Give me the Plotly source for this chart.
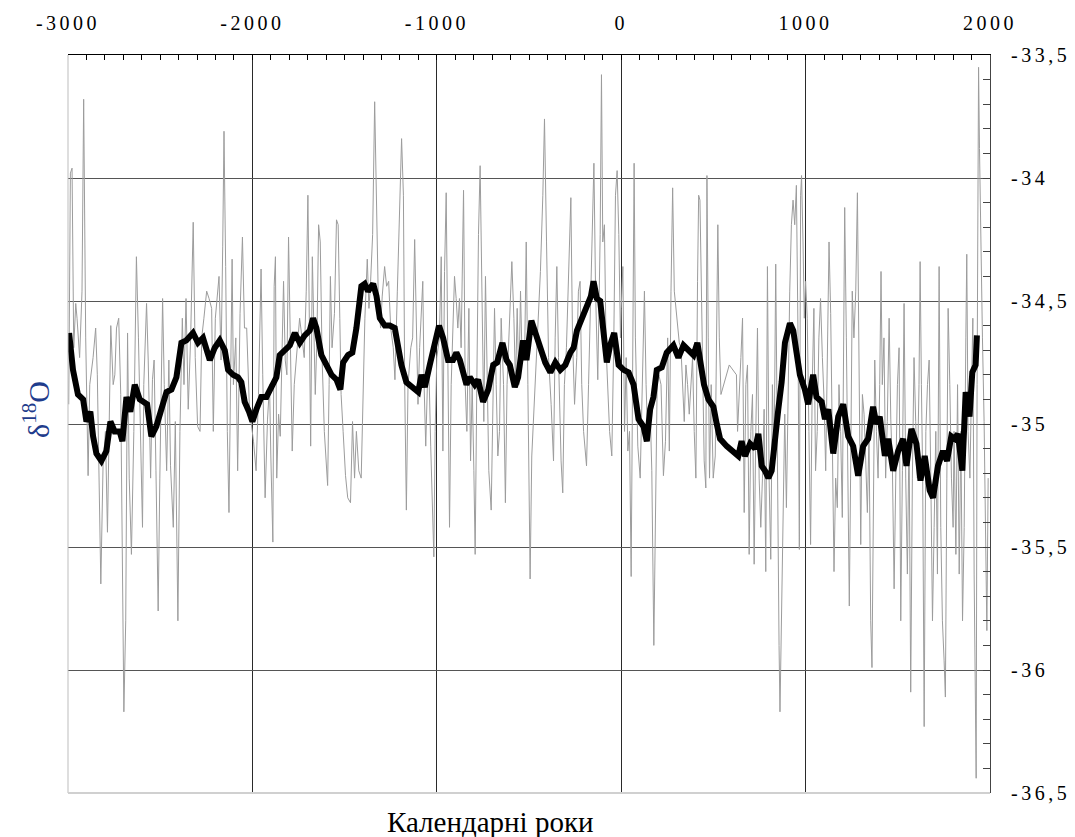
import plotly.graph_objects as go

# ---------------- data ----------------
# thin grey annual series (peaks / troughs)
gray_years = [
    -2996, -2987, -2978, -2969, -2958, -2951, -2937, -2924, -2915, -2904, -2891, -2882, -2864, -2850,
    -2841, -2831, -2822, -2810, -2797, -2786, -2774, -2768, -2755, -2746, -2737, -2725, -2714, -2701,
    -2697, -2687, -2677, -2668, -2656, -2643, -2629, -2618, -2607, -2596, -2589, -2574, -2565, -2552,
    -2542, -2533, -2523, -2511, -2502, -2487, -2478, -2465, -2453, -2444, -2429, -2418, -2404, -2393,
    -2380, -2371, -2360, -2348, -2335, -2321, -2310, -2297, -2284, -2275, -2263, -2248, -2235, -2221,
    -2212, -2201, -2181, -2170, -2161, -2154, -2145, -2136, -2127, -2118, -2110, -2103, -2090, -2080,
    -2067, -2054, -2043, -2031, -2016, -1994,
    -1980, -1967, -1953, -1944, -1931, -1918, -1907, -1900, -1889, -1882, -1875, -1868, -1858, -1849,
    -1840, -1831, -1822, -1813, -1804, -1795, -1784, -1773, -1759, -1744, -1731, -1719, -1708, -1699,
    -1690, -1684, -1675, -1668, -1659, -1650, -1641, -1632, -1622, -1610, -1599, -1592, -1584, -1577,
    -1568, -1555, -1544, -1535, -1526, -1519, -1508, -1495, -1483, -1468, -1457, -1446, -1436, -1423,
    -1410, -1399, -1390, -1377, -1368, -1359, -1348, -1337, -1327, -1318, -1305, -1296, -1283, -1272,
    -1261, -1250, -1236, -1227, -1214, -1201, -1191, -1181, -1174, -1165, -1156, -1141, -1131, -1120,
    -1111, -1102, -1093, -1083, -1076, -1069, -1060, -1051, -1042, -1033, -1024, -1016, -1009, -1000,
    -986, -976, -967, -958, -949, -940, -931, -922, -913, -904, -895, -886, -877, -868, -855, -846,
    -837, -826, -817, -808, -799, -792, -783, -774, -765, -756, -745, -736, -727, -718, -705, -696,
    -687, -678, -669, -660, -651, -638, -628, -619, -606, -593, -582, -573, -564, -555, -546, -539,
    -524, -515, -506, -494, -485, -474, -461, -449, -438, -425, -416, -405, -394, -380, -367, -358,
    -349, -340, -326, -317, -308, -297, -286, -273, -264, -253, -241, -232, -223, -214, -204, -188,
    -177, -166, -157, -148, -139, -127, -114, -107, -100, -91, -82, -72, -63, -51, -40, -31, -22, -13,
    -4,
    0, 9, 18, 27, 36, 45, 54, 63, 70, 77, 90, 103, 114, 126, 135, 144, 157, 166, 177, 186, 195, 204,
    216, 229, 240, 252, 261, 270, 279, 288, 315, 324, 333, 342, 351, 360, 369, 378, 387, 396, 405,
    414, 420, 427, 434, 441, 450, 459, 465, 472, 479, 488, 499, 510, 517, 524, 532, 541, 586, 625,
    631, 640, 649, 658, 667, 676, 685, 694, 703, 712, 721, 730, 739, 748, 757, 766, 775, 784, 793,
    802, 811, 820, 829, 838, 847, 856, 861, 869, 878, 887, 896, 905, 914, 923, 932, 941, 950, 959,
    966, 973, 978, 986, 993,
    1000, 1009, 1018, 1027, 1036, 1045, 1054, 1063, 1072, 1081, 1091, 1100, 1109, 1118, 1127, 1136,
    1145, 1154, 1163, 1172, 1181, 1190, 1199, 1205, 1212, 1221, 1230, 1237, 1244, 1253, 1262, 1272,
    1281, 1290, 1299, 1308, 1317, 1326, 1335, 1344, 1353, 1360, 1367, 1375, 1384, 1393, 1402, 1409,
    1416, 1425, 1434, 1443, 1453, 1462, 1471, 1480, 1489, 1498, 1507, 1516, 1525, 1534, 1543, 1552,
    1561, 1570, 1579, 1588, 1597, 1606, 1615, 1621, 1628, 1635, 1643, 1652, 1661, 1670, 1679, 1688,
    1697, 1706, 1715, 1724, 1733, 1742, 1751, 1758, 1766, 1773, 1782, 1791, 1800, 1805, 1815, 1824,
    1833, 1842, 1851, 1860, 1869, 1874, 1881, 1891, 1900, 1907, 1914, 1919, 1925, 1930, 1934, 1938,
    1943, 1950, 1959, 1968, 1977, 1983, 1990,
]
gray_values = [
    -34.92, -33.98, -33.96, -34.69, -34.51, -34.57, -34.73, -34.46, -33.68, -34.65, -35.21, -34.84, -34.73, -34.61,
    -34.80, -35.34, -35.65, -35.17, -35.03, -35.44, -34.84, -34.60, -34.84, -34.80, -34.61, -34.57, -34.88, -35.90,
    -36.17, -35.80, -34.63, -35.22, -35.53, -35.03, -34.32, -34.65, -35.11, -35.42, -34.84, -34.51, -34.74, -35.22,
    -34.82, -34.74, -35.19, -35.76, -35.22, -34.49, -34.84, -35.19, -34.74, -35.17, -35.42, -34.99, -35.80, -35.03,
    -34.57, -34.84, -34.49, -34.94, -34.65, -34.18, -34.73, -35.01, -35.03, -34.65, -34.57, -34.46, -34.49, -34.53,
    -35.03, -34.57, -34.40, -34.74, -34.28, -33.81, -34.36, -35.03, -35.36, -34.84, -34.33, -34.84, -34.65, -35.19,
    -34.55, -34.24, -34.61, -34.61, -34.94, -35.07,
    -35.19, -34.88, -34.37, -34.80, -35.30, -34.98, -34.84, -35.13, -35.48, -34.44, -34.32, -35.22, -34.96, -35.05,
    -34.73, -34.42, -34.74, -34.80, -34.24, -34.65, -35.11, -34.84, -34.71, -34.57, -34.65, -34.73, -34.46, -34.07,
    -34.65, -35.09, -34.32, -34.61, -34.88, -34.65, -34.19, -34.26, -34.73, -35.03, -35.19, -35.25, -34.84, -34.40,
    -34.69, -34.55, -34.17, -34.19, -34.57, -34.88, -35.03, -35.21, -35.30, -35.32, -34.99, -35.22, -35.03, -35.19,
    -35.22, -34.84, -34.57, -34.33, -34.53, -34.42, -34.23, -33.69, -34.07, -34.46, -34.61, -34.48, -34.36, -34.44,
    -34.42, -34.61, -34.69, -34.82, -34.46, -34.07, -33.84, -34.07, -34.84, -35.35, -34.84, -34.69, -34.65, -34.25,
    -34.65, -34.92, -34.69, -34.55, -34.42, -34.84, -35.09, -34.84, -34.80, -35.09, -35.40, -35.54, -35.03, -34.73,
    -34.65, -34.32, -35.11, -34.38, -34.06, -34.65, -35.42, -34.84, -34.57, -34.40, -34.49, -34.61, -34.49, -34.69, -34.05, -34.84,
    -35.03, -34.53, -35.15, -34.84, -35.19, -35.53, -34.84, -34.23, -33.95, -34.46, -34.99, -34.40, -34.84, -35.19, -35.35, -34.84,
    -34.53, -34.84, -35.13, -35.03, -34.57, -34.84, -35.32, -34.84, -34.57, -34.34, -34.57, -34.84, -34.53, -34.84, -34.46, -34.69,
    -34.74, -34.26, -34.84, -35.63, -35.13, -34.96, -34.74, -34.55, -34.38, -34.07, -33.76, -34.26, -34.73, -34.92, -35.15, -34.65,
    -34.36, -34.73, -35.15, -35.28, -34.84, -34.69, -34.42, -34.08, -34.65, -34.92, -34.73, -34.46, -34.42, -34.84, -35.03, -35.17,
    -34.84, -34.46, -34.23, -33.94, -34.46, -34.82, -34.23, -33.58, -34.26, -34.19, -34.69, -34.84, -35.03, -35.13, -34.65, -34.07, -33.97, -34.23,
    -34.65,
    -34.53, -34.36, -35.03, -34.73, -35.11, -35.03, -35.62, -34.84, -33.94, -34.65, -35.09, -35.22, -34.84, -34.46, -34.84, -35.07, -34.94, -35.19, -35.90, -35.42, -34.84, -34.80,
    -34.84, -35.21, -35.07, -34.65, -35.11, -34.46, -34.04, -34.46, -34.67, -34.69, -34.84, -34.99, -34.76, -34.84, -34.96, -34.84, -34.73, -35.03, -35.22,
    -34.42, -34.07, -34.09, -34.46, -34.84, -35.15, -35.26, -33.99, -34.65, -35.22, -34.84, -35.22, -35.13, -34.65, -34.19, -34.65, -34.88, -34.76, -34.80,
    -35.03, -34.84, -34.73, -34.57, -35.36, -34.84, -34.76, -35.53, -35.03, -34.88, -35.57, -35.03, -34.61, -35.22, -35.42, -35.22, -34.94, -35.60, -34.36,
    -35.22, -35.55, -34.84, -35.17, -34.35, -35.22, -35.90, -36.17, -35.80, -35.22, -34.96, -35.34, -34.84, -34.46, -34.19, -34.09, -34.19, -34.03, -34.65,
    -35.51, -34.07, -33.99, -34.26, -34.57,
    -34.42, -34.57, -35.03, -35.49, -34.84, -34.53, -35.19, -35.03, -34.65, -34.49, -34.73, -34.90, -35.19, -34.65, -34.26, -34.55,
    -35.03, -35.60, -35.22, -35.34, -34.84, -35.03, -35.38, -34.84, -34.12, -34.65, -35.22, -35.74, -35.22, -34.46, -34.65, -34.46,
    -34.06, -34.84, -35.49, -34.88, -34.96, -35.15, -35.36, -35.03, -35.80, -35.99, -35.22, -34.74, -35.03, -35.22, -34.84, -34.38,
    -34.84, -34.65, -35.22, -34.99, -34.57, -34.98, -35.19, -35.67, -35.22, -34.84, -34.69, -35.80, -35.19, -34.51, -35.22, -35.61,
    -35.03, -36.09, -35.22, -34.73, -34.99, -35.22, -34.84, -34.34, -34.84, -35.22, -36.23, -35.03, -34.84, -34.74, -35.22, -35.80,
    -35.42, -35.03, -35.61, -34.36, -35.42, -35.80, -35.96, -36.11, -35.22, -34.53, -34.84, -35.22, -35.42, -35.03, -35.53, -34.84,
    -35.61, -35.03, -35.80, -35.42, -34.65, -34.31, -35.03, -35.22, -34.84, -34.57, -35.61, -35.99, -36.44, -34.84, -34.01, -33.55,
    -33.88, -34.26, -34.65, -34.99, -35.42, -35.84, -35.22,
]

# thick smoothed curve
smooth_years = [
    -2994, -2973, -2946, -2918, -2900, -2879, -2864, -2846, -2819, -2792, -2770, -2747, -2720, -2705,
    -2683, -2662, -2638, -2611, -2571, -2548, -2521, -2494, -2466, -2439, -2412, -2385, -2358, -2322,
    -2295, -2268, -2231, -2204, -2177, -2150, -2132, -2105, -2078, -2060, -2042, -2018, -2000, -1978,
    -1951, -1924, -1897, -1870, -1852, -1825, -1797, -1770, -1743, -1716, -1689, -1671, -1653, -1626,
    -1599, -1571, -1544, -1523, -1508, -1481, -1458, -1436, -1409, -1391, -1373, -1345, -1327, -1309,
    -1282, -1255, -1228, -1210, -1192, -1165, -1129, -1101, -1083, -1065, -1038, -1011, -988, -966,
    -939, -912, -894, -875, -839, -821, -794, -776, -749, -721, -694, -673, -644, -622, -604, -577,
    -559, -532, -514, -487, -459, -412, -384, -357, -330, -303, -276, -258, -240, -213, -186, -164,
    -150, -132, -114, -96, -78, -60, -38, -14, 13, 40, 67, 94, 121, 139, 157, 175, 193, 220, 247,
    283, 310, 338, 365, 392, 413, 428, 449, 473, 500, 518, 536, 572, 608, 635, 653, 671, 699, 726,
    744, 762, 780, 798, 816, 834, 852, 870, 888, 915, 933, 951, 969, 996, 1014, 1041, 1059, 1087,
    1105, 1123, 1150, 1177, 1204, 1231, 1258, 1285, 1312, 1339, 1366, 1384, 1402, 1430, 1448, 1475,
    1502, 1529, 1547, 1574, 1601, 1623, 1646, 1673, 1691, 1718, 1745, 1767, 1790, 1808, 1826, 1850,
    1868, 1889, 1904, 1922, 1929,
]
smooth_values = [
    -34.63, -34.78, -34.88, -34.90, -34.99, -34.95, -35.05, -35.12, -35.15, -35.11, -34.99, -35.03, -35.03, -35.07,
    -34.89, -34.95, -34.84, -34.90, -34.92, -35.05, -35.01, -34.95, -34.87, -34.86, -34.81, -34.67, -34.66, -34.63,
    -34.67, -34.65, -34.74, -34.69, -34.66, -34.70, -34.78, -34.80, -34.81, -34.83, -34.91, -34.95, -34.99, -34.94,
    -34.89, -34.89, -34.85, -34.81, -34.72, -34.70, -34.68, -34.63, -34.67, -34.64, -34.62, -34.57, -34.61, -34.72,
    -34.76, -34.80, -34.82, -34.86, -34.75, -34.72, -34.71, -34.61, -34.44, -34.43, -34.46, -34.43, -34.48, -34.57,
    -34.60, -34.60, -34.61, -34.68, -34.76, -34.83, -34.85, -34.87, -34.80, -34.85, -34.76, -34.67, -34.60, -34.65,
    -34.74, -34.74, -34.71, -34.74, -34.84, -34.81, -34.84, -34.82, -34.91, -34.86, -34.76, -34.75, -34.67, -34.74, -34.76, -34.85,
    -34.81, -34.66, -34.74, -34.58, -34.64, -34.75, -34.79, -34.75, -34.78, -34.76, -34.71, -34.69, -34.62, -34.57, -34.53, -34.48,
    -34.42, -34.49, -34.50, -34.63, -34.75, -34.68, -34.63, -34.76, -34.78, -34.79, -34.84, -34.98, -35.01, -35.07, -34.94, -34.89, -34.78, -34.77, -34.71,
    -34.68, -34.73, -34.68, -34.70, -34.72, -34.67, -34.74, -34.84, -34.90, -34.93, -35.00, -35.06, -35.09, -35.11, -35.13, -35.07, -35.13, -35.08, -35.10,
    -35.04, -35.17, -35.19, -35.22, -35.19, -35.04, -34.94, -34.83, -34.67, -34.59, -34.62, -34.71, -34.80, -34.86, -34.92, -34.80, -34.89, -34.91,
    -34.98, -34.94, -35.12, -34.97, -34.92, -35.05, -35.09, -35.21, -35.09, -35.06, -34.93, -35.00, -34.97, -35.13, -35.06, -35.19,
    -35.11, -35.06, -35.17, -35.02, -35.08, -35.23, -35.13, -35.27, -35.30, -35.17, -35.11, -35.15, -35.05, -35.06, -35.04, -35.19,
    -34.87, -34.97, -34.79, -34.76, -34.64,
]

x_tick_values = [-3000, -2000, -1000, 0, 1000, 2000]
x_tick_labels = ["-3000", "-2000", "-1000", "0", "1000", "2000"]
y_tick_values = [-36.5, -36.0, -35.5, -35.0, -34.5, -34.0, -33.5]
y_tick_labels = ["-36,5", "-36", "-35,5", "-35", "-34,5", "-34", "-33,5"]

x_title = "Календарні роки"
y_title = "δ<sup>18</sup>O"

SERIF = "Liberation Serif, Times New Roman, serif"

# ---------------- figure ----------------
fig = go.Figure()
fig.add_trace(go.Scatter(
    x=gray_years, y=gray_values, mode="lines",
    line=dict(color="#9c9c9c", width=1), hoverinfo="skip",
))
fig.add_trace(go.Scatter(
    x=smooth_years, y=smooth_values, mode="lines",
    line=dict(color="#000000", width=6), hoverinfo="skip",
))

fig.update_layout(
    width=1075, height=837,
    margin=dict(l=68, r=85, t=52, b=44),
    paper_bgcolor="white", plot_bgcolor="white",
    showlegend=False,
    font=dict(family=SERIF, size=20, color="black"),
    xaxis=dict(
        range=[-3000, 2000], side="top",
        tickmode="array", tickvals=x_tick_values, ticktext=x_tick_labels,
        ticks="inside", ticklen=5, tickcolor="black",
        showgrid=True, gridcolor="#2a2a2a", gridwidth=1,
        zeroline=False,
        showline=True, linecolor="black", linewidth=1,
        tickfont=dict(family=SERIF, size=20, color="black"),
        ticklabelstandoff=16,
        minor=dict(dtick=100, tick0=0, ticks="inside", ticklen=5, tickcolor="black", showgrid=False),
    ),
    yaxis=dict(
        range=[-36.5, -33.5], side="right",
        tickmode="array", tickvals=y_tick_values, ticktext=y_tick_labels,
        ticks="inside", ticklen=7, tickcolor="#444",
        showgrid=True, gridcolor="#555555", gridwidth=1,
        zeroline=False,
        showline=True, linecolor="#444", linewidth=1,
        tickfont=dict(family=SERIF, size=20, color="black"),
        ticklabelstandoff=16,
        minor=dict(dtick=0.1, tick0=-36.5, ticks="inside", ticklen=7, tickcolor="#444", showgrid=False),
    ),
    shapes=[
        dict(type="line", xref="paper", yref="paper", x0=0, x1=0, y0=0, y1=1,
             line=dict(color="#bdbdbd", width=1), layer="above"),
        dict(type="line", xref="paper", yref="paper", x0=0, x1=1, y0=0, y1=0,
             line=dict(color="#d0d0d0", width=2), layer="above"),
    ],
    annotations=[
        dict(text=x_title, xref="paper", yref="paper", x=0.4585, y=-0.039,
             xanchor="center", yanchor="middle", showarrow=False,
             font=dict(family=SERIF, size=29, color="black")),
        dict(text=y_title, xref="paper", yref="paper", x=-0.034, y=0.52,
             xanchor="center", yanchor="middle", showarrow=False, textangle=-90,
             font=dict(family=SERIF, size=30, color="#1f3c8c")),
    ],
)

post = ("document.querySelectorAll('.xtick text, .ytick text').forEach(function(t){"
        "t.style.letterSpacing='3.5px';});")
fig.write_html("out.html", post_script=post)
